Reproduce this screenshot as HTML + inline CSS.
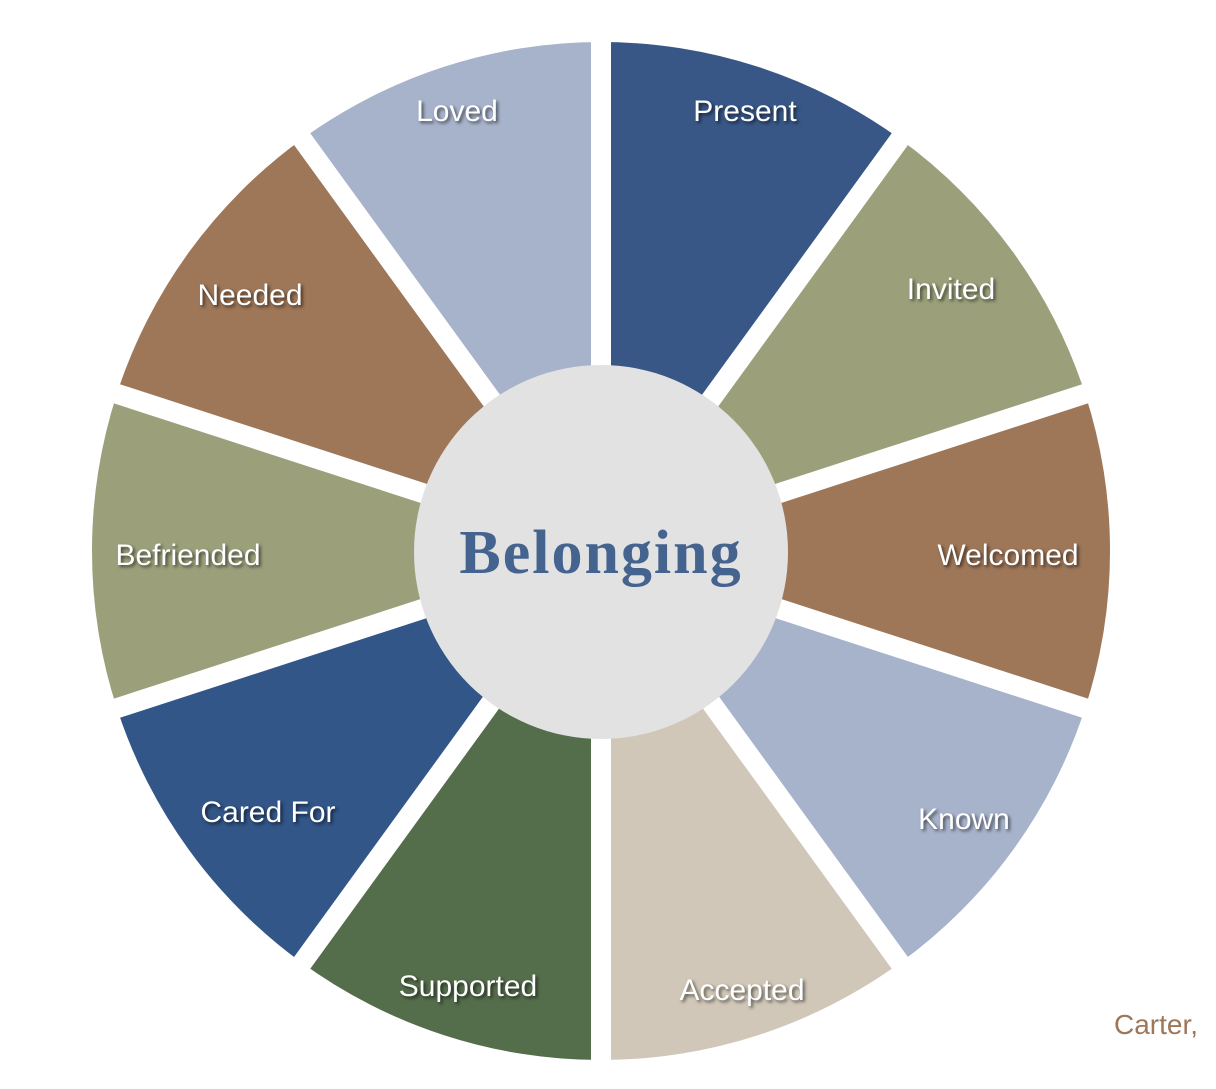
<!DOCTYPE html>
<html><head><meta charset="utf-8"><style>
html,body{margin:0;padding:0;background:#fff;}
svg text.l{font-family:"Liberation Sans",sans-serif;font-size:30px;fill:#fff;text-shadow:2px 2px 3px rgba(0,0,0,0.6);text-anchor:middle;}
</style></head><body>
<svg width="1216" height="1084" viewBox="0 0 1216 1084" xmlns="http://www.w3.org/2000/svg">
<g>
<path d="M601,551 L601,42 A509,509 0 0 1 900.2,139.2 Z" fill="#385787"/>
<path d="M601,551 L900.2,139.2 A509,509 0 0 1 1085.1,393.7 Z" fill="#9ba07b"/>
<path d="M601,551 L1085.1,393.7 A509,509 0 0 1 1085.1,708.3 Z" fill="#9e7658"/>
<path d="M601,551 L1085.1,708.3 A509,509 0 0 1 900.2,962.8 Z" fill="#a7b3cb"/>
<path d="M601,551 L900.2,962.8 A509,509 0 0 1 601,1060 Z" fill="#d0c7b8"/>
<path d="M601,551 L601,1060 A509,509 0 0 1 301.8,962.8 Z" fill="#546d4b"/>
<path d="M601,551 L301.8,962.8 A509,509 0 0 1 116.9,708.3 Z" fill="#325688"/>
<path d="M601,551 L116.9,708.3 A509,509 0 0 1 116.9,393.7 Z" fill="#9ba07b"/>
<path d="M601,551 L116.9,393.7 A509,509 0 0 1 301.8,139.2 Z" fill="#9e7658"/>
<path d="M601,551 L301.8,139.2 A509,509 0 0 1 601,42 Z" fill="#a7b3cb"/>
</g>
<g stroke="#fff" stroke-width="20">
<line x1="601" y1="551" x2="601" y2="20"/>
<line x1="601" y1="551" x2="913" y2="121"/>
<line x1="601" y1="551" x2="1106" y2="387"/>
<line x1="601" y1="551" x2="1106" y2="715"/>
<line x1="601" y1="551" x2="913" y2="981"/>
<line x1="601" y1="551" x2="601" y2="1082"/>
<line x1="601" y1="551" x2="289" y2="981"/>
<line x1="601" y1="551" x2="96" y2="715"/>
<line x1="601" y1="551" x2="96" y2="387"/>
<line x1="601" y1="551" x2="289" y2="121"/>
</g>
<circle cx="601" cy="552" r="187" fill="#e2e2e2"/>
<text x="601" y="573" text-anchor="middle" font-family="Liberation Serif,serif" font-weight="bold" font-size="62" letter-spacing="2" fill="#44648f">Belonging</text>
<text class="l" x="745" y="121">Present</text>
<text class="l" x="951" y="299">Invited</text>
<text class="l" x="1008" y="565">Welcomed</text>
<text class="l" x="964" y="829">Known</text>
<text class="l" x="742" y="1000">Accepted</text>
<text class="l" x="468" y="996">Supported</text>
<text class="l" x="268" y="822">Cared For</text>
<text class="l" x="188" y="565">Befriended</text>
<text class="l" x="250" y="305">Needed</text>
<text class="l" x="457" y="121">Loved</text>
<text x="1114" y="1034" font-family="Liberation Sans,sans-serif" font-size="28" fill="#9e7658">Carter,</text>
</svg>
</body></html>
